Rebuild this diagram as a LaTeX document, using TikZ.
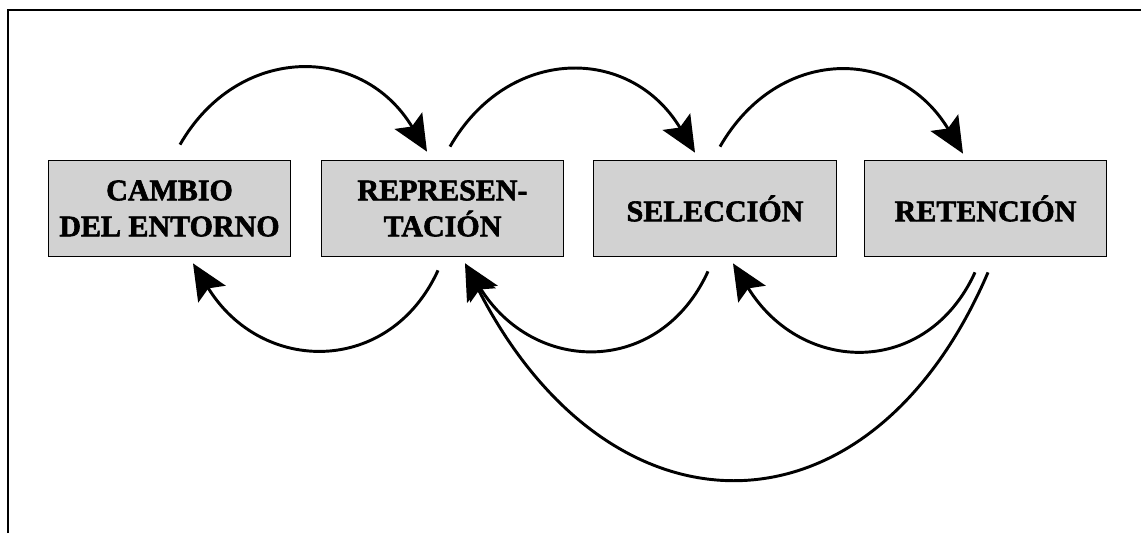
\documentclass[tikz,border=0pt]{standalone}
\usepackage{fontspec}
\setmainfont{Liberation Serif}
\newfontfamily\boxfont{Liberation Serif Bold}[FakeBold=2]
\usetikzlibrary{arrows.meta}
\definecolor{boxgray}{HTML}{D2D2D2}
\begin{document}
\begin{tikzpicture}[x=0.75pt,y=-0.75pt,
  stage/.style={draw=black,line width=0.8pt,fill=boxgray,
    minimum width=182pt,minimum height=72.5pt,inner sep=0pt,
    align=center,font=\boxfont\fontsize{22.5}{27}\selectfont},
  flow/.style={line width=2.2pt,
    -{Stealth[length=27pt,width=24pt,inset=5pt]}}]
  \useasboundingbox (0,0) rectangle (1141,533);
  % frame (top and left edges)
  \draw[line width=2pt] (8,533) -- (8,10) -- (1141,10);
  % stages
  \node[stage] (b1) at (169.5,208.5) {CAMBIO\\DEL ENTORNO};
  \node[stage] (b2) at (442.5,208.5) {REPRESEN-\\TACIÓN};
  \node[stage] (b3) at (715,208.5) {SELECCIÓN};
  \node[stage] (b4) at (985.5,208.5) {RETENCIÓN};
  % forward arcs over the top
  \draw[flow] ([shift={(10.5,-15)}]b1.north) .. controls +(58,-101) and +(-65,-108) .. ([shift={(-15.5,-8)}]b2.north);
  \draw[flow] ([shift={(7.5,-13)}]b2.north) .. controls +(58,-101) and +(-65,-108) .. ([shift={(-20,-7)}]b3.north);
  \draw[flow] ([shift={(5,-13)}]b3.north) .. controls +(58,-101) and +(-65,-108) .. ([shift={(-22.5,-6)}]b4.north);
  % feedback arcs underneath
  \draw[flow] ([shift={(-4.5,13)}]b2.south) .. controls +(-48,105) and +(69,112) .. ([shift={(23.5,6)}]b1.south);
  \draw[flow] ([shift={(-7,14)}]b3.south) .. controls +(-48,105) and +(69,112) .. ([shift={(22.5,6)}]b2.south);
  \draw[flow] ([shift={(-10.5,15)}]b4.south) .. controls +(-48,105) and +(69,112) .. ([shift={(18,6)}]b3.south);
  \draw[flow] ([shift={(2.5,15)}]b4.south) .. controls +(-118,275) and +(145,284) .. ([shift={(22.5,6)}]b2.south);
\end{tikzpicture}
\end{document}
